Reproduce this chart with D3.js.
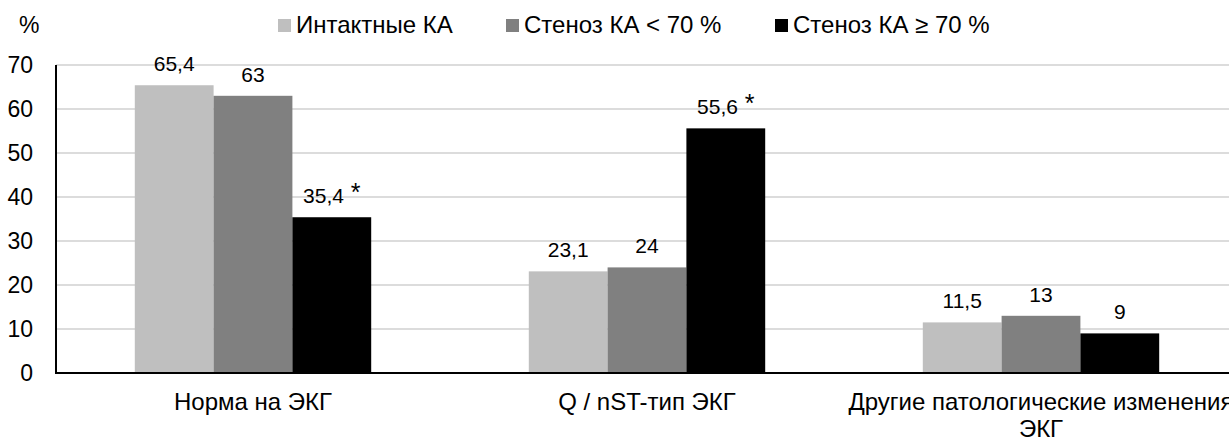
<!DOCTYPE html>
<html><head><meta charset="utf-8">
<script src="https://cdn.jsdelivr.net/npm/d3@7"></script>
<style>
html,body{margin:0;padding:0;background:#fff;}
svg{display:block;font-family:"Liberation Sans",Arial,sans-serif;}
</style></head>
<body>
<svg id="c" width="1229" height="439"></svg>
<script>
const categories = ["Норма на ЭКГ", "Q / nST-тип ЭКГ", "Другие патологические изменения ЭКГ"];
const categoryLines = [["Норма на ЭКГ"], ["Q / nST-тип ЭКГ"], ["Другие патологические изменения", "ЭКГ"]];
const seriesNames = ["Интактные КА", "Стеноз КА < 70 %", "Стеноз КА ≥ 70 %"];
const seriesColors = ["#bfbfbf", "#808080", "#000000"];
const intact = [65.4, 23.1, 11.5];
const stenosisLess70 = [63, 24, 13];
const stenosisMore70 = [35.4, 55.6, 9];
const significant = [[false, false, false], [false, false, false], [true, true, false]];
const yTicks = [0, 10, 20, 30, 40, 50, 60, 70];
const yUnit = "%";

(function () {
const series = [intact, stenosisLess70, stenosisMore70];
const svg = d3.select("#c");
const pL = 56, pR = 1238, pT = 65, pB = 373;
const FS = 24, FT = 23, FL = 21;

const y = d3.scaleLinear().domain([0, 70]).range([pB, pT]);
const x0 = d3.scaleBand().domain(categories).range([pL, pR]).paddingInner(0.4).paddingOuter(0.2);
const x1 = d3.scaleBand().domain(d3.range(series.length)).range([0, x0.bandwidth()]);

svg.append("g").selectAll("line").data(yTicks.filter(d => d > 0)).join("line")
  .attr("x1", pL).attr("x2", pR)
  .attr("y1", d => y(d)).attr("y2", d => y(d))
  .attr("stroke", "#d0d0d0").attr("stroke-width", 1.6);

const yAxis = d3.axisLeft(y).tickValues(yTicks).tickSize(0).tickPadding(23);
const ga = svg.append("g").attr("transform", `translate(${pL},0)`).call(yAxis);
ga.select(".domain").remove();
ga.selectAll("text").attr("font-size", FT).attr("font-family", "Liberation Sans, Arial, sans-serif").attr("fill", "#000");

svg.append("text").attr("x", 19).attr("y", 33).attr("font-size", 23).attr("fill", "#000").text(yUnit);

const groups = svg.append("g").selectAll("g").data(categories).join("g")
  .attr("transform", d => `translate(${x0(d)},0)`);
groups.each(function(cat, ci) {
  const g = d3.select(this);
  series.forEach((vals, si) => {
    const v = vals[ci];
    g.append("rect")
      .attr("x", x1(si)).attr("width", x1.bandwidth())
      .attr("y", y(v)).attr("height", y(0) - y(v))
      .attr("fill", seriesColors[si]);
    const t = g.append("text")
      .attr("x", x1(si) + x1.bandwidth() / 2)
      .attr("y", y(v) - 14)
      .attr("text-anchor", "middle")
      .attr("font-size", FL).attr("fill", "#000");
    t.append("tspan").text(String(v).replace(".", ","));
    if (significant[si][ci]) {
      t.append("tspan").attr("font-size", 25).attr("dy", -2).text("\u00a0*");
    }
  });
});

svg.append("line").attr("x1", pL).attr("x2", pL).attr("y1", pT).attr("y2", pB)
  .attr("stroke", "#000").attr("stroke-width", 2);
svg.append("line").attr("x1", pL - 1).attr("x2", pR).attr("y1", pB).attr("y2", pB)
  .attr("stroke", "#000").attr("stroke-width", 2);

categories.forEach((c, i) => {
  const cx = x0(c) + x0.bandwidth() / 2;
  const t = svg.append("text")
    .attr("x", cx).attr("y", 410)
    .attr("text-anchor", "middle").attr("font-size", FS).attr("fill", "#000");
  categoryLines[i].forEach((ln, k) => {
    t.append("tspan").attr("x", cx).attr("dy", k === 0 ? 0 : 27).text(ln);
  });
});

const legendX = [278, 506, 775];
const lg = svg.append("g").selectAll("g").data(seriesNames).join("g")
  .attr("transform", (d, i) => `translate(${legendX[i]},0)`);
lg.append("rect").attr("x", 0).attr("y", 19).attr("width", 13).attr("height", 13)
  .attr("fill", (d, i) => seriesColors[i]);
lg.append("text").attr("x", 18).attr("y", 33).attr("font-size", FS).attr("fill", "#000").text(d => d);
})();
</script>
</body></html>
